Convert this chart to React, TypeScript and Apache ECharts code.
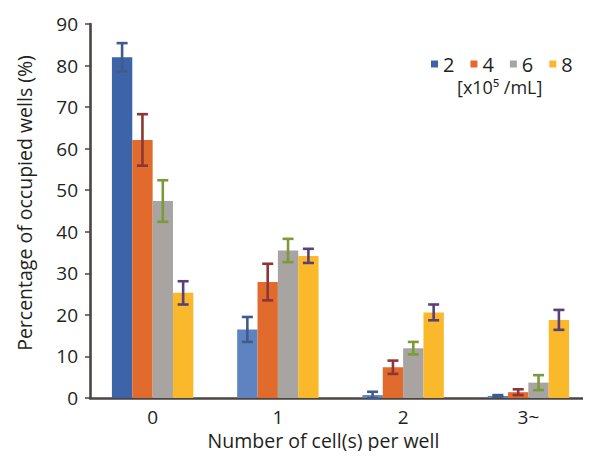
import React, { useEffect, useRef } from "react";
import * as echarts from "echarts";

const categories = ["0", "1", "2", "3~"];
const seriesNames = ["2", "4", "6", "8"];
const yTicks = [0, 10, 20, 30, 40, 50, 60, 70, 80, 90];

const means2 = [82.0, 16.5, 0.7, 0.5];
const errs2 = [3.4, 3.0, 0.8, 0.2];
const means4 = [62.1, 27.9, 7.4, 1.4];
const errs4 = [6.2, 4.4, 1.6, 0.7];
const means6 = [47.4, 35.5, 12.0, 3.7];
const errs6 = [5.0, 2.8, 1.5, 1.8];
const means8 = [25.3, 34.2, 20.6, 18.8];
const errs8 = [2.8, 1.7, 1.9, 2.4];

const barColors = ["#3d64a8", "#e06b2c", "#a8a4a1", "#f9b92a"];
const blueLight = "#5f82c1";
const errColors = ["#3f5b8c", "#8e3536", "#7a9b3a", "#5b3f78"];
const axisColor = "#4a4541";
const textColor = "#231f20";
const FONT = "'Open Sans', 'Noto Sans', sans-serif";
const BAR_GAP = 0.35;

export default function App() {
  const ref = useRef<HTMLDivElement>(null);
  useEffect(() => {
    if (!ref.current) return;
    const chart = echarts.init(ref.current, undefined, { renderer: "svg" });
    const allMeans = [means2, means4, means6, means8];
    const allErrs = [errs2, errs4, errs6, errs8];

    const barSeries = allMeans.map((m, k) => ({
      name: seriesNames[k],
      type: "bar",
      barGap: "0%",
      barCategoryGap: BAR_GAP * 100 + "%",
      itemStyle: { color: barColors[k] },
      data: m.map((v, i) =>
        k === 0 && i > 0 ? { value: v, itemStyle: { color: blueLight } } : v
      ),
      z: 2,
    }));

    const errSeries = allMeans.map((m, k) => ({
      name: "err" + seriesNames[k],
      type: "custom",
      z: 5,
      encode: { x: 0, y: 1 },
      data: m.map((v, i) => [i, v, allErrs[k][i]]),
      renderItem: (params: any, api: any) => {
        const cat = api.value(0);
        const mean = api.value(1);
        const e = api.value(2);
        const c = api.coord([cat, mean]);
        const band = api.size([1, 0])[0];
        const bw = (band * (1 - BAR_GAP)) / 4;
        const x = c[0] + (k - 1.5) * bw;
        const top = api.coord([cat, mean + e])[1];
        const bot = api.coord([cat, Math.max(0, mean - e)])[1];
        const cap = 5.5;
        const st = { stroke: errColors[k], lineWidth: 2.6 };
        return {
          type: "group",
          children: [
            { type: "line", shape: { x1: x, y1: top, x2: x, y2: bot }, style: st },
            { type: "line", shape: { x1: x - cap, y1: top, x2: x + cap, y2: top }, style: st },
            { type: "line", shape: { x1: x - cap, y1: bot, x2: x + cap, y2: bot }, style: st },
          ],
        };
      },
    }));

    chart.setOption({
      animation: false,
      backgroundColor: "#ffffff",
      textStyle: { fontFamily: FONT },
      grid: { left: 90, right: -8, top: 24, bottom: 61, containLabel: false },
      legend: {
        data: seriesNames,
        left: 426,
        top: 49,
        itemWidth: 7,
        itemHeight: 7,
        itemGap: 16,
        icon: "rect",
        textStyle: { fontSize: 20, color: textColor, fontFamily: FONT },
      },
      graphic: [
        {
          type: "text",
          left: 457,
          top: 78,
          style: {
            text: "[x10\u2075 /mL]",
            fontSize: 18,
            fill: textColor,
            fontFamily: FONT,
          },
        },
      ],
      xAxis: {
        type: "category",
        data: categories,
        axisLine: { lineStyle: { color: axisColor, width: 2.6 } },
        axisTick: { show: false },
        axisLabel: { fontSize: 19, color: textColor, margin: 9, fontFamily: FONT },
        name: "Number of cell(s) per well",
        nameLocation: "middle",
        nameGap: 28,
        nameTextStyle: { fontSize: 19.5, color: textColor, fontFamily: FONT, padding: [0, 34, 0, 0] },
      },
      yAxis: {
        type: "value",
        min: 0,
        max: 90,
        interval: 10,
        splitLine: { show: false },
        axisLine: { show: true, lineStyle: { color: axisColor, width: 2.6 } },
        axisTick: { show: true, length: 5, lineStyle: { color: axisColor, width: 1.5 } },
        axisLabel: {
          fontSize: 19,
          color: textColor,
          margin: 12,
          fontFamily: FONT,
          customValues: yTicks,
        },
        name: "Percentage of occupied wells (%)",
        nameLocation: "middle",
        nameGap: 56,
        nameTextStyle: { fontSize: 19.5, color: textColor, fontFamily: FONT, padding: [0, 0, 0, 16] },
      },
      series: [...barSeries, ...errSeries],
    });
    return () => chart.dispose();
  }, []);
  return <div ref={ref} style={{ width: 591, height: 459, margin: -8 }} />;
}
